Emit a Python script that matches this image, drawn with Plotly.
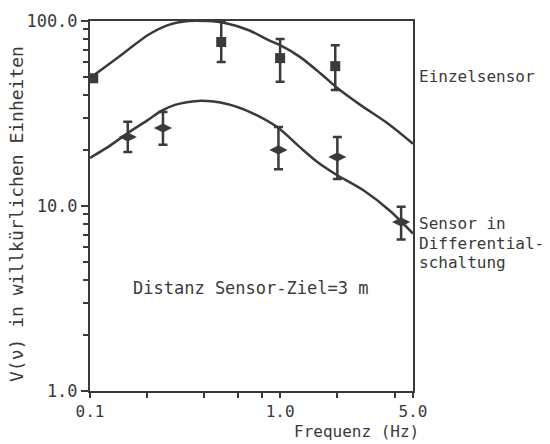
import plotly.graph_objects as go

# ---- data ----
# fitted curves
curve_einzel_f = [0.1, 0.124, 0.158, 0.202, 0.257, 0.328, 0.417, 0.513, 0.679, 0.865, 1.0,
                  1.27, 1.62, 2.0, 2.64, 3.66, 5.0]
curve_einzel_v = [49.2, 57.8, 69.7, 84, 95, 100, 100, 97.5, 89.4, 79, 74,
                  64, 52.4, 43.4, 35.2, 28.1, 21.7]
curve_diff_f = [0.1, 0.124, 0.158, 0.202, 0.236, 0.28, 0.37, 0.526, 0.695, 0.965,
                1.27, 1.57, 1.95, 2.73, 3.79, 5.0]
curve_diff_v = [18.2, 20.8, 24.8, 29.2, 32.6, 35.2, 37.0, 35.6, 32.2, 26.7,
                20.8, 17.3, 14.9, 12.2, 9.4, 7.1]

# measured points with error bounds
einzel_f = [0.104, 0.49, 1.0, 1.95]
einzel_v = [49, 77, 63, 57]
einzel_hi = [49, 99, 80, 74]
einzel_lo = [49, 60, 47, 42.4]

diff_f = [0.158, 0.242, 0.98, 2.0, 4.33]
diff_v = [23.6, 26.4, 20.1, 18.4, 8.2]
diff_hi = [28.5, 32.2, 26.7, 23.6, 9.9]
diff_lo = [19.6, 21.4, 15.8, 14.0, 6.6]

x_tickvals = [0.1, 1, 5]
x_ticktext = ["0.1", "1.0", "5.0"]
x_minor = [0.2, 0.4, 0.6, 0.8, 2, 4]
y_tickvals = [1, 10, 100]
y_ticktext = ["1.0", "10.0", "100.0"]
y_minor = [2, 3, 4, 5, 6, 7, 8, 9, 20, 30, 40, 50, 60, 70, 80, 90]

INK = "#3a3a3a"
FONT = "DejaVu Sans Mono"

fig = go.Figure()

for fx, fv in [(curve_einzel_f, curve_einzel_v), (curve_diff_f, curve_diff_v)]:
    fig.add_trace(go.Scatter(x=fx, y=fv, mode="lines",
                             line=dict(color=INK, width=2.5, shape="spline", smoothing=0.8),
                             showlegend=False, hoverinfo="skip"))

fig.add_trace(go.Scatter(
    x=einzel_f, y=einzel_v, mode="markers",
    marker=dict(symbol="square", size=10, color=INK),
    error_y=dict(type="data", symmetric=False,
                 array=[h - v for h, v in zip(einzel_hi, einzel_v)],
                 arrayminus=[v - l for v, l in zip(einzel_v, einzel_lo)],
                 color=INK, thickness=2.5, width=4.5),
    showlegend=False))

fig.add_trace(go.Scatter(
    x=diff_f, y=diff_v, mode="markers",
    marker=dict(symbol="diamond-wide", size=13, color=INK),
    error_y=dict(type="data", symmetric=False,
                 array=[h - v for h, v in zip(diff_hi, diff_v)],
                 arrayminus=[v - l for v, l in zip(diff_v, diff_lo)],
                 color=INK, thickness=2.5, width=4.5),
    showlegend=False))

L, R, T, B = 90, 413, 21, 391
W, H = R - L, B - T


def px(x):
    return (x - L) / W


def py(y):
    return (B - y) / H


ann = [
    dict(text="Einzelsensor", x=px(417), y=py(76), xanchor="left", yanchor="middle", size=16),
    dict(text="Sensor in", x=px(417), y=py(224), xanchor="left", yanchor="middle", size=16),
    dict(text="Differential-", x=px(417), y=py(243), xanchor="left", yanchor="middle", size=16),
    dict(text="schaltung", x=px(417), y=py(262), xanchor="left", yanchor="middle", size=16),
    dict(text="Distanz Sensor-Ziel=3 m", x=px(250), y=py(288), xanchor="center", yanchor="middle", size=17),
    dict(text="Frequenz (Hz)", x=px(356), y=py(431), xanchor="center", yanchor="middle", size=16),
]
for a in ann:
    fig.add_annotation(xref="paper", yref="paper", x=a["x"], y=a["y"], text=a["text"],
                       xanchor=a["xanchor"], yanchor=a["yanchor"], showarrow=False,
                       font=dict(family=FONT, size=a["size"], color=INK))

fig.add_annotation(xref="paper", yref="paper", x=px(16), y=py(214),
                   text="V(ν) in willkürlichen Einheiten", textangle=-90,
                   xanchor="center", yanchor="middle", showarrow=False,
                   font=dict(family=FONT, size=18, color=INK))

fig.update_xaxes(type="log", range=[-1, 0.69897], showline=True, linecolor=INK, linewidth=2,
                 mirror=True, ticks="outside", ticklen=5, tickwidth=2, tickcolor=INK,
                 tickmode="array", tickvals=x_tickvals, ticktext=x_ticktext,
                 minor=dict(tickmode="array", tickvals=x_minor, ticks="outside", ticklen=5,
                            tickwidth=2, tickcolor=INK, showgrid=False),
                 showgrid=False, zeroline=False,
                 tickfont=dict(family=FONT, size=16, color=INK))
fig.update_yaxes(type="log", range=[0, 2], showline=True, linecolor=INK, linewidth=2,
                 mirror=True, ticks="outside", ticklen=7, tickwidth=2, tickcolor=INK,
                 tickmode="array", tickvals=y_tickvals, ticktext=y_ticktext,
                 minor=dict(tickmode="array", tickvals=y_minor, ticks="outside", ticklen=5,
                            tickwidth=2, tickcolor=INK, showgrid=False),
                 showgrid=False, zeroline=False,
                 tickfont=dict(family=FONT, size=17, color=INK))

fig.update_layout(width=550, height=444, margin=dict(l=L, r=550 - R, t=T, b=444 - B),
                  paper_bgcolor="white", plot_bgcolor="white", showlegend=False)

fig.write_html("out.html", config={"displayModeBar": False},
               post_script="document.body.style.margin='0';document.body.style.overflow='hidden';")
